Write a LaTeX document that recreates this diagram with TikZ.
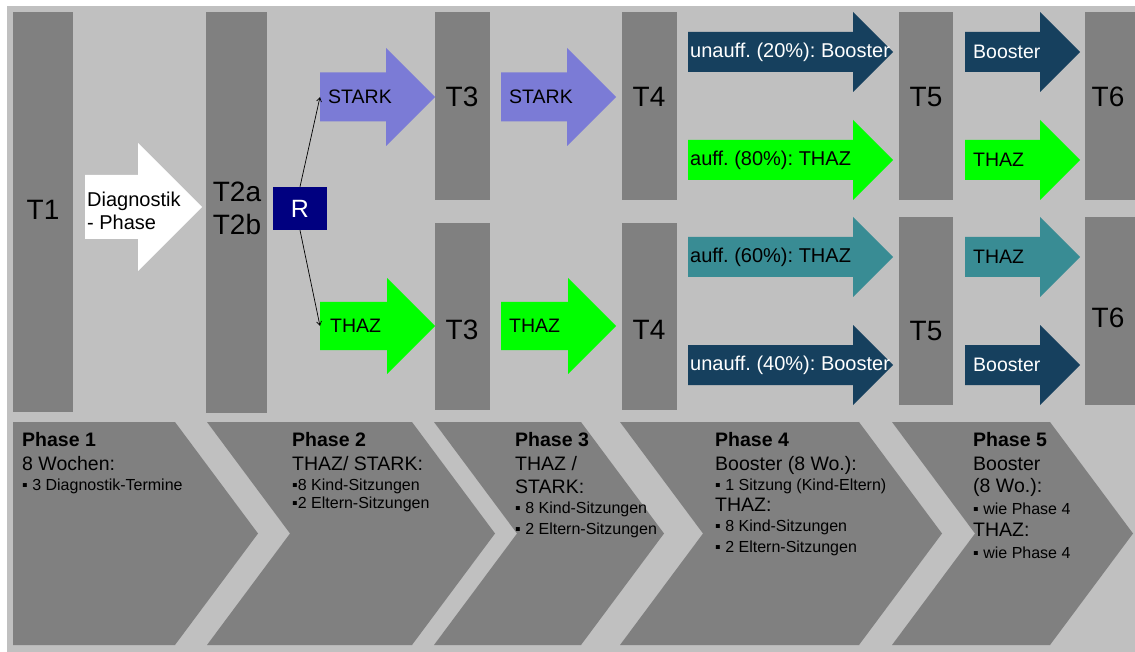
\documentclass[tikz,border=0pt]{standalone}
\usepackage{fontspec}
\setmainfont{Liberation Sans}
\usepackage{xcolor}
\usetikzlibrary{arrows.meta, positioning, calc}
\definecolor{PanelGray}{RGB}{192,192,192}
\definecolor{BarGray}{RGB}{128,128,128}
\definecolor{StarkViolet}{RGB}{123,123,214}
\definecolor{ThazGreen}{RGB}{0,255,0}
\definecolor{BoosterDark}{RGB}{22,64,94}
\definecolor{ThazTeal}{RGB}{57,140,148}
\definecolor{RandNavy}{RGB}{0,0,128}
\frenchspacing

% block arrow: name, tail x, tip x, mid y, half body width, fill
\newcommand{\blockarrow}[6]{%
  \fill[#6] (#2,#4-#5) -- ({#3-2*#5},#4-#5) -- ({#3-2*#5},#4-2*#5) -- (#3,#4)
    -- ({#3-2*#5},#4+2*#5) -- ({#3-2*#5},#4+#5) -- (#2,#4+#5) -- cycle;
  \coordinate (#1) at (#2,#4);}
% phase chevron: left x, right x, notch depth
\newcommand{\phasechevron}[3]{%
  \fill[BarGray] (#1,422) -- (#2,422) -- ({#2+83},533.5) -- (#2,645)
    -- (#1,645) -- ({#1+#3},533.5) -- cycle;}
\newcommand{\phasehead}{\fontsize{19.5}{23}\selectfont}

\tikzset{
  tlabel/.style={font=\fontsize{28}{33}\selectfont, align=center, inner sep=0pt},
  arrowtext/.style={font=\fontsize{19.5}{23}\selectfont, anchor=west, inner sep=0pt},
  phasetext/.style={font=\fontsize{16}{20.5}\selectfont, align=left, anchor=north west, inner sep=0pt},
  randlink/.style={-{Straight Barb[length=4pt,width=5pt]}, line width=0.7pt, black},
}

\begin{document}
\begin{tikzpicture}[x=1pt, y=-1pt]
  \useasboundingbox (0,0) rectangle (1135,652);
  \fill[white] (0,0) rectangle (1135,652);
  \fill[PanelGray] (7,6) rectangle (1135,652);

  % measurement bars
  \foreach \xl/\xr/\yt/\yb in {13/73/12/412, 206/267/12/413,
      435/490/12/200, 435/490/223/410, 622/677/12/200, 622/677/223/410,
      899/953/12/200, 899/953/217/405, 1085/1135/12/200, 1085/1135/217/405}
    \fill[BarGray] (\xl,\yt) rectangle (\xr,\yb);

  % phase chevrons
  \phasechevron{13}{175}{0}
  \phasechevron{207}{412}{83}
  \phasechevron{434}{581}{83}
  \phasechevron{620}{859}{83}
  \phasechevron{892}{1050}{83}

  % treatment arrows
  \blockarrow{diag}{85}{202}{207}{32}{white}
  \blockarrow{stark1}{320}{435}{97}{24.5}{StarkViolet}
  \blockarrow{thaz1}{320}{435}{326}{24}{ThazGreen}
  \blockarrow{stark2}{501}{616}{97}{24.5}{StarkViolet}
  \blockarrow{thaz2}{501}{616}{326}{24}{ThazGreen}
  \blockarrow{boost20}{688}{893}{52}{20}{BoosterDark}
  \blockarrow{thaz80}{688}{893}{160}{20}{ThazGreen}
  \blockarrow{thaz60}{688}{893}{257}{20}{ThazTeal}
  \blockarrow{boost40}{688}{893}{365}{20}{BoosterDark}
  \blockarrow{boost5a}{965}{1080}{52}{20}{BoosterDark}
  \blockarrow{thaz5a}{965}{1080}{160}{20}{ThazGreen}
  \blockarrow{thaz5b}{965}{1080}{257}{20}{ThazTeal}
  \blockarrow{boost5b}{965}{1080}{365}{20}{BoosterDark}

  \node[arrowtext, font=\fontsize{20}{23}\selectfont, align=left, right=2pt of diag, yshift=-4pt] (diagtext) {Diagnostik\\- Phase};
  \node[arrowtext, right=8pt of stark1] (stark1text) {STARK};
  \node[arrowtext, right=10pt of thaz1] (thaz1text) {THAZ};
  \node[arrowtext, right=8pt of stark2] (stark2text) {STARK};
  \node[arrowtext, right=8pt of thaz2] (thaz2text) {THAZ};
  \node[arrowtext, font=\fontsize{20}{23}\selectfont, text=white, right=2pt of boost20] (boost20text) {unauff. (20\%): Booster};
  \node[arrowtext, font=\fontsize{20}{23}\selectfont, right=2pt of thaz80] (thaz80text) {auff. (80\%): THAZ};
  \node[arrowtext, font=\fontsize{20}{23}\selectfont, right=2pt of thaz60] (thaz60text) {auff. (60\%): THAZ};
  \node[arrowtext, font=\fontsize{20}{23}\selectfont, text=white, right=2pt of boost40] (boost40text) {unauff. (40\%): Booster};
  \node[arrowtext, text=white, right=8pt of boost5a] (boost5atext) {Booster};
  \node[arrowtext, right=8pt of thaz5a] (thaz5atext) {THAZ};
  \node[arrowtext, right=8pt of thaz5b] (thaz5btext) {THAZ};
  \node[arrowtext, text=white, right=8pt of boost5b] (boost5btext) {Booster};

  % time points
  \node[tlabel] (t1) at (43,210) {T1};
  \node[tlabel] (t2) at (237,208) {T2a\\T2b};
  \node[tlabel] (t3a) at (462,97) {T3};
  \node[tlabel] (t3b) at (462,330) {T3};
  \node[tlabel] (t4a) at (649,97) {T4};
  \node[tlabel] (t4b) at (649,330) {T4};
  \node[tlabel] (t5a) at (926,97) {T5};
  \node[tlabel] (t5b) at (926,331) {T5};
  \node[tlabel] (t6a) at (1108,97) {T6};
  \node[tlabel] (t6b) at (1108,318) {T6};

  % randomisation
  \node[fill=RandNavy, minimum width=54pt, minimum height=43pt, inner sep=0pt,
        text=white, font=\fontsize{25}{28}\selectfont] (rand) at (300,208.5) {R};
  \draw[randlink] (rand.north) -- (stark1);
  \draw[randlink] (rand.south) -- (thaz1);

  % phase descriptions
  \node[phasetext] (ph1) at (22,432) {{\phasehead\bfseries Phase 1}\\[3.5pt]
    {\phasehead 8 Wochen:}\\
    ▪ 3 Diagnostik-Termine};
  \node[phasetext] (ph2) at (292,432) {{\phasehead\bfseries Phase 2}\\[3.5pt]
    {\phasehead THAZ/ STARK:}\\
    ▪8 Kind-Sitzungen\\[-2.5pt]
    ▪2 Eltern-Sitzungen};
  \node[phasetext] (ph3) at (515,432) {{\phasehead\bfseries Phase 3}\\[3.5pt]
    {\phasehead THAZ /}\\[2.5pt]
    {\phasehead STARK:}\\
    ▪ 8 Kind-Sitzungen\\
    ▪ 2 Eltern-Sitzungen};
  \node[phasetext] (ph4) at (715,432) {{\phasehead\bfseries Phase 4}\\[3.5pt]
    {\phasehead Booster (8 Wo.):}\\
    ▪ 1 Sitzung (Kind-Eltern)\\
    {\phasehead THAZ:}\\
    ▪ 8 Kind-Sitzungen\\
    ▪ 2 Eltern-Sitzungen};
  \node[phasetext] (ph5) at (973,432) {{\phasehead\bfseries Phase 5}\\[3.5pt]
    {\phasehead Booster}\\[1.5pt]
    {\phasehead (8 Wo.):}\\[1.5pt]
    ▪ wie Phase 4\\[1.5pt]
    {\phasehead THAZ:}\\[1.5pt]
    ▪ wie Phase 4};
\end{tikzpicture}
\end{document}
